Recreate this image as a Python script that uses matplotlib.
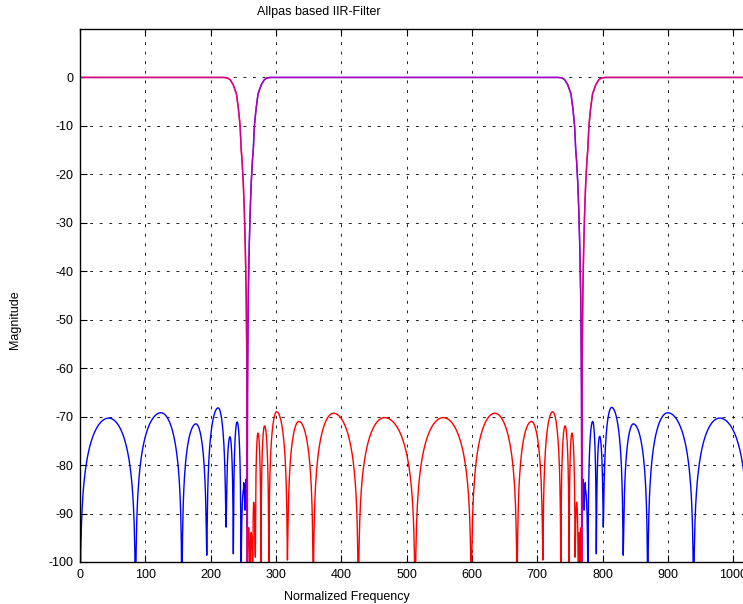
#!/usr/bin/env python3
# -*- coding: utf-8 -*-
"""
Magnitude response of an allpass based IIR filter pair (gnuplot look).
"""

import numpy as np
import matplotlib
matplotlib.use("Agg")
import matplotlib.pyplot as plt

plt.rcParams["font.family"] = ["Liberation Sans", "DejaVu Sans"]
plt.rcParams["axes.unicode_minus"] = False

# ------------------------------------------------------------------------------

# Data

notch_centres = [256, 768]

# notch edge: distance from the notch centre vs level (dB)
edge_offset = [0.4, 0.9, 1.6, 3.0, 4.5, 6.0, 8.0, 9.2, 11.0, 13.5, 16.5, 21.5, 26.0, 30.0, 36.0]
edge_db = [-65, -55, -45, -35, -27.5, -22, -17, -15, -9.9, -6.5, -3.4, -1.5, -0.5, -0.1, 0.0]

# red stopband (middle)
red_null_f = [256, 260, 264.3, 268.4, 277, 289, 317.5, 357, 426, 513, 599, 669,
              708.5, 736, 748.6, 757.8, 762.8, 766, 768]
red_null_db = [-110, -110, -110, -99, -110, -110, -99.6, -110, -110, -110, -110, -110,
               -99.6, -110, -110, -99, -110, -110, -110]
red_peak_f = [258.2, 262, 265.8, 272.4, 282.5, 301, 335, 388, 466, 556, 635, 691,
              723.5, 742.5, 753, 760.3, 764.4, 767]
red_peak_db = [-93, -94, -88, -73.4, -71.9, -69.0, -71.0, -69.3, -70.2, -70.2, -69.3, -71.0,
               -69.0, -71.9, -73.4, -88, -94, -93]

# blue stopband (low part)
blue_lo_null_f = [0, 85, 156, 194, 223.5, 234.7, 246.4, 252.6, 255.6]
blue_lo_null_db = [-110, -110, -110, -98.6, -92.8, -98.3, -110, -89.3, -92.7]
blue_lo_peak_f = [44, 124, 177.5, 211.5, 229.5, 240.5, 250.5, 254.2]
blue_lo_peak_db = [-70.3, -69.2, -71.5, -68.2, -74.2, -71.1, -85, -84]

# blue stopband (high part)
blue_hi_null_f = [768.4, 771.4, 777.6, 790.3, 801, 831.5, 869, 939.2, 1024]
blue_hi_null_db = [-92.7, -89.3, -110, -98.3, -92.8, -98.6, -110, -110, -110]
blue_hi_peak_f = [769.8, 773.5, 784.7, 795.4, 813.7, 847, 899.6, 979]
blue_hi_peak_db = [-84, -85, -71.0, -74.1, -68.1, -71.5, -69.2, -70.3]

x_ticks = list(range(0, 1001, 100))
y_ticks = list(range(-100, 1, 10))


# ------------------------------------------------------------------------------

def lobes(null_f, null_db, peak_f, peak_db, n=80):
    """Draw arches between consecutive nulls, each through its peak."""
    fs, dbs = [], []
    for i in range(len(peak_f)):
        a, b, c = null_f[i], null_f[i + 1], peak_f[i]
        f = np.linspace(a, b, n)
        t = np.where(f <= c, 0.5 * (f - a) / (c - a), 0.5 + 0.5 * (f - c) / (b - c))
        shape = peak_db[i] + 20 * np.log10(np.maximum(np.sin(np.pi * t), 1e-7))
        floor = np.where(f <= c, null_db[i], null_db[i + 1])
        db = 10 * np.log10(10 ** (shape / 10) + 10 ** (floor / 10))
        fs.append(f)
        dbs.append(db)
    return np.concatenate(fs), np.concatenate(dbs)


def falling(centre):
    off = np.array(edge_offset[::-1])
    return centre - off, np.array(edge_db[::-1])


def rising(centre):
    off = np.array(edge_offset)
    return centre + off, np.array(edge_db)


# red: passband low, stopband middle, passband high
r1f, r1d = falling(notch_centres[0])
r2f, r2d = lobes(red_null_f, red_null_db, red_peak_f, red_peak_db)
r3f, r3d = rising(notch_centres[1])
red_f = np.concatenate([[0], r1f, r2f, r3f, [1024]])
red_db = np.concatenate([[0], r1d, r2d, r3d, [0]])

# blue: stopband low, passband middle, stopband high
b1f, b1d = lobes(blue_lo_null_f, blue_lo_null_db, blue_lo_peak_f, blue_lo_peak_db)
b2f, b2d = rising(notch_centres[0])
b3f, b3d = falling(notch_centres[1])
b4f, b4d = lobes(blue_hi_null_f, blue_hi_null_db, blue_hi_peak_f, blue_hi_peak_db)
blue_f = np.concatenate([b1f, b2f, b3f, b4f])
blue_db = np.concatenate([b1d, b2d, b3d, b4d])

# top (notch) curve
top_f = np.concatenate([[0], r1f, [notch_centres[0]], b2f, b3f, [notch_centres[1]], r3f, [1024]])
top_db = np.concatenate([[0], r1d, [-110], b2d, b3d, [-110], r3d, [0]])

# ------------------------------------------------------------------------------

W, H = 743, 604
fig = plt.figure(figsize=(W / 100, H / 100), dpi=100)
ax = fig.add_axes([80 / W, 42 / H, (749 - 80) / W, (562 - 29) / H])

ax.plot(red_f, red_db, color="#ff0000", lw=1.0)
ax.plot(blue_f, blue_db, color="#0000ff", lw=1.0)
ax.plot(top_f, top_db, color="#cc00aa", lw=1.1, alpha=0.85)

ax.set_xlim(0, 1024)
ax.set_ylim(-100, 10)
ax.set_xticks(x_ticks)
ax.set_yticks(y_ticks)
ax.tick_params(direction="in", length=5, width=0.8, top=True, right=True,
               labelsize=9, pad=5)
ax.grid(True, color="black", lw=0.6, linestyle=(0, (3.5, 8)))
for s in ax.spines.values():
    s.set_linewidth(1.0)

fig.text(319 / W, 1 - 12 / H, "Allpas based IIR-Filter", ha="center", va="center", fontsize=9)
fig.text(347 / W, 1 - 597 / H, "Normalized Frequency", ha="center", va="center", fontsize=9)
fig.text(15 / W, 1 - 320 / H, "Magnitude", ha="center", va="center", rotation=90, fontsize=9)

fig.savefig("out.png", dpi=100)
